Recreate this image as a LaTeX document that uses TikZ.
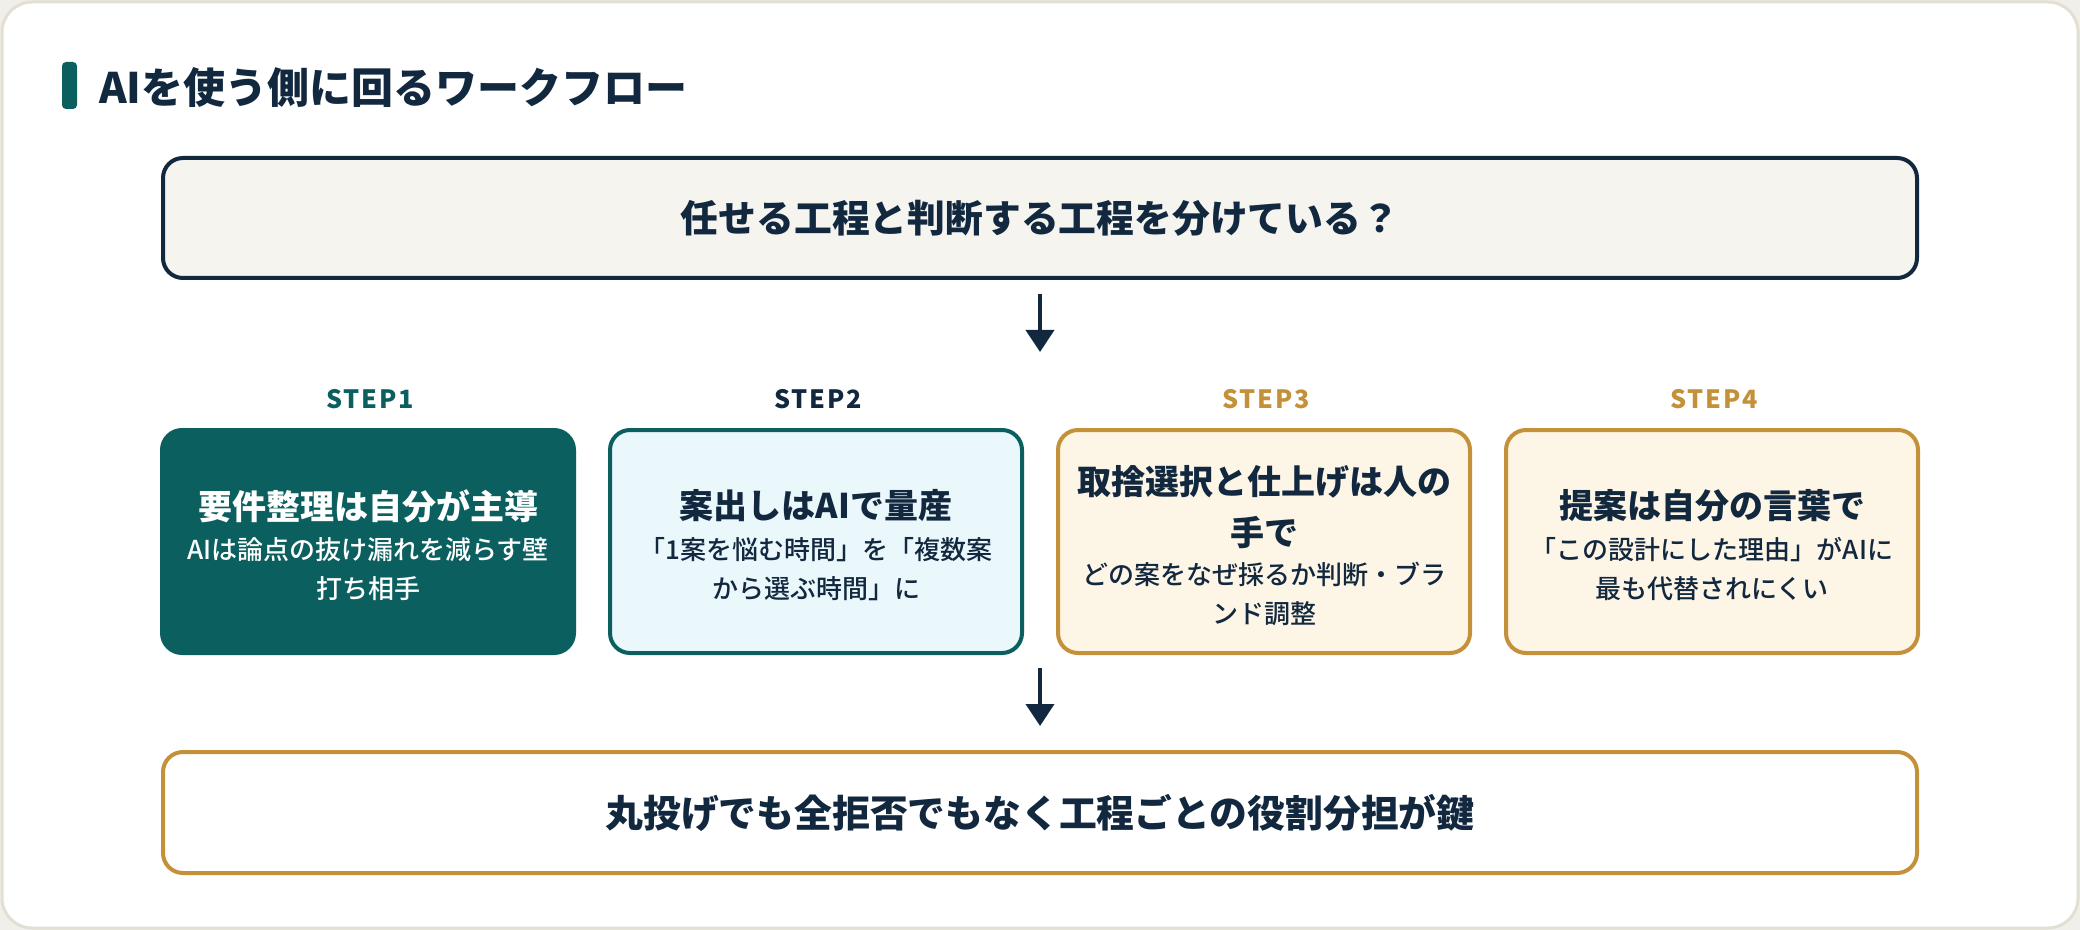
\documentclass[tikz,border=0pt]{standalone}
\usepackage{fontspec}
\setmainfont{Noto Sans CJK JP}
\newfontfamily\jpmedium{Noto Sans CJK JP Medium}
\newfontfamily\jpblack{Noto Sans CJK JP Black}[LetterSpace=7]
\usepackage{tikz}
\usetikzlibrary{positioning,arrows.meta}

\definecolor{navy}{HTML}{12283F}
\definecolor{deepteal}{HTML}{0B5F5F}
\definecolor{gold}{HTML}{C4913A}
\definecolor{cream}{HTML}{FDF5E5}
\definecolor{ice}{HTML}{EAF8FC}
\definecolor{paper}{HTML}{F5F4EF}
\definecolor{cardline}{HTML}{E2DFD3}
\definecolor{outside}{HTML}{F0EFE9}

\tikzset{
	stepbox/.style={rounded corners=10pt, line width=2pt, minimum width=206pt, minimum height=111.5pt, inner sep=0pt},
	widebox/.style={rounded corners=10pt, line width=2pt, minimum width=877pt, minimum height=60pt, inner sep=0pt, text=navy, font=\bfseries\fontsize{18.9}{22}\selectfont},
	steplabel/.style={font=\jpblack\fontsize{12.6}{15}\selectfont},
	boxtitle/.style={align=center, font=\bfseries\fontsize{17}{25.5}\selectfont},
	boxsub/.style={align=center, font=\jpmedium\fontsize{13}{19.5}\selectfont},
	flowarrow/.style={navy, line width=2pt, -{Triangle[length=11pt,width=14pt]}}
}

\begin{document}
\begin{tikzpicture}[x=0.5pt, y=-0.5pt]
		\useasboundingbox (0,0) rectangle (2080,930);
		\fill[outside] (0,0) rectangle (2080,930);
		\draw[cardline, line width=1.5pt, fill=white, rounded corners=15pt] (2,2) rectangle (2078,928);

		\fill[deepteal, rounded corners=2pt] (62,62) rectangle (77,109);
		\node[anchor=west, navy, font=\bfseries\fontsize{21}{25}\selectfont] (title) at (92,88) {AIを使う側に回るワークフロー};

		\node[widebox, draw=navy, fill=paper] (q) at (1040,218) {任せる工程と判断する工程を分けている？};
		\coordinate (a1s) at (1040,294);
		\coordinate (a1e) at (1040,352);
		\draw[flowarrow] (a1s) -- (a1e);

		\node[steplabel, deepteal] (l1) at (370,399) {STEP1};
		\node[steplabel, navy] (l2) at (818,399) {STEP2};
		\node[steplabel, gold] (l3) at (1266,399) {STEP3};
		\node[steplabel, gold] (l4) at (1714,399) {STEP4};

		\node[stepbox, draw=deepteal, fill=deepteal] (s1) at (368,541.5) {};
		\node[boxtitle, white] (s1t) at (368,506) {要件整理は自分が主導};
		\node[boxsub, white] (s1s) at (368,569) {AIは論点の抜け漏れを減らす壁\\打ち相手};

		\node[stepbox, draw=deepteal, fill=ice] (s2) at (816,541.5) {};
		\node[boxtitle, navy] (s2t) at (816,506) {案出しはAIで量産};
		\node[boxsub, navy] (s2s) at (816,569) {「1案を悩む時間」を「複数案\\から選ぶ時間」に};

		\node[stepbox, draw=gold, fill=cream] (s3) at (1264,541.5) {};
		\node[boxtitle, navy] (s3t) at (1264,507.5) {取捨選択と仕上げは人の\\手で};
		\node[boxsub, navy] (s3s) at (1264,593.5) {どの案をなぜ採るか判断・ブラ\\ンド調整};

		\node[stepbox, draw=gold, fill=cream] (s4) at (1712,541.5) {};
		\node[boxtitle, navy] (s4t) at (1712,506) {提案は自分の言葉で};
		\node[boxsub, navy] (s4s) at (1712,569) {「この設計にした理由」がAIに\\最も代替されにくい};

		\coordinate (a2s) at (1040,668);
		\coordinate (a2e) at (1040,726);
		\draw[flowarrow] (a2s) -- (a2e);

		\node[widebox, draw=gold, fill=white, minimum height=60.5pt] (k) at (1040,812.5) {丸投げでも全拒否でもなく工程ごとの役割分担が鍵};
	\end{tikzpicture}
\end{document}
